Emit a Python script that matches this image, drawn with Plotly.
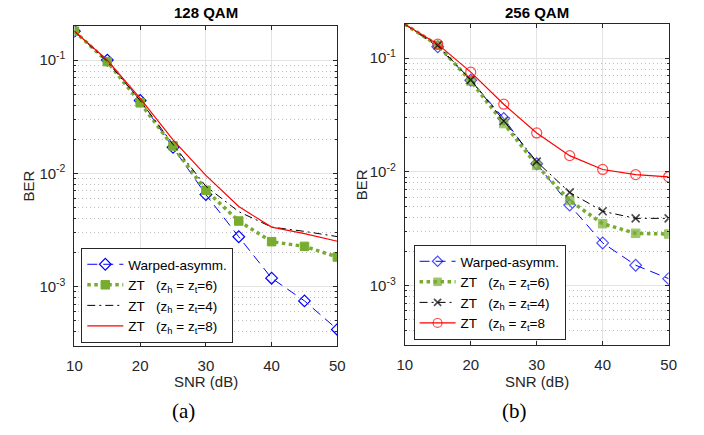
import plotly.graph_objects as go

snr = [10, 15, 20, 25, 30, 35, 40, 45, 50]

# 128 QAM
a_warped = [0.18, 0.100, 0.044, 0.0170, 0.0065, 0.00276, 0.00119, 0.00075, 0.00042]
a_zt6 = [0.18, 0.097, 0.042, 0.0175, 0.0071, 0.0038, 0.0025, 0.00227, 0.00183]
a_zt4 = [0.18, 0.097, 0.044, 0.0180, 0.0077, 0.0046, 0.00336, 0.00308, 0.00277]
a_zt8 = [0.18, 0.100, 0.046, 0.0198, 0.0096, 0.0051, 0.00336, 0.00294, 0.00252]

# 256 QAM
b_warped = [0.199, 0.126, 0.064, 0.0295, 0.0118, 0.0051, 0.00237, 0.00151, 0.00115]
b_zt6 = [0.199, 0.130, 0.063, 0.0266, 0.0114, 0.0056, 0.0035, 0.00288, 0.00284]
b_zt4 = [0.199, 0.130, 0.0645, 0.0280, 0.0123, 0.0066, 0.0045, 0.00390, 0.00390]
b_zt8 = [0.199, 0.133, 0.0754, 0.0394, 0.0220, 0.0139, 0.0105, 0.00946, 0.00905]

names = ["Warped-asymm.",
         "ZT\u00a0\u00a0\u00a0(z<sub>h</sub> = z<sub>t</sub>=6)",
         "ZT\u00a0\u00a0\u00a0(z<sub>h</sub> = z<sub>t</sub>=4)",
         "ZT\u00a0\u00a0\u00a0(z<sub>h</sub> = z<sub>t</sub>=8)"]
names_b = names[:3] + ["ZT\u00a0\u00a0\u00a0(z<sub>h</sub> = z<sub>t</sub>=8"]

ytickvals = [1e-3, 1e-2, 1e-1]
yticktext = ["10<sup>-3</sup>", "10<sup>-2</sup>", "10<sup>-1</sup>"]
xtickvals = [10, 20, 30, 40, 50]

BLUE = "#0000FF"
GREEN = "#77AC30"
RED = "#FF0000"
AXC = "#262626"
FONT = "Liberation Sans, Arial, sans-serif"

fig = go.Figure()

hide_first = [0] + [1] * 8


def sizes(s, hide):
    return [s * h for h in hide] if hide else s


for (xa, ya, leg, data, nm, hide) in [
    ("x", "y", "legend", (a_warped, a_zt6, a_zt4, a_zt8), names, False),
    ("x2", "y2", "legend2", (b_warped, b_zt6, b_zt4, b_zt8), names_b, True),
]:
    hf = hide_first if hide else None
    fig.add_trace(go.Scatter(
        x=snr, y=data[0], xaxis=xa, yaxis=ya, legend=leg, name=nm[0],
        mode="lines+markers",
        line=dict(color=BLUE, width=1, dash="10px,6px"),
        marker=dict(symbol="diamond-open", size=sizes(9, hf), color=BLUE,
                    line=dict(width=1.2, color=BLUE))))
    fig.add_trace(go.Scatter(
        x=snr, y=data[1], xaxis=xa, yaxis=ya, legend=leg, name=nm[1],
        mode="lines+markers",
        line=dict(color=GREEN, width=3.5, dash="dot"),
        marker=dict(symbol="square", size=sizes(8.5, hf), color=GREEN,
                    line=dict(width=1, color=GREEN))))
    if not hide:
        fig.add_trace(go.Scatter(
            x=snr, y=data[2], xaxis=xa, yaxis=ya, legend=leg, name=nm[2],
            mode="lines",
            line=dict(color="black", width=1, dash="8px,4px,2px,4px")))
        fig.add_trace(go.Scatter(
            x=snr, y=data[3], xaxis=xa, yaxis=ya, legend=leg, name=nm[3],
            mode="lines",
            line=dict(color=RED, width=1.2)))
    else:
        fig.add_trace(go.Scatter(
            x=snr, y=data[2], xaxis=xa, yaxis=ya, legend=leg, name=nm[2],
            mode="lines+markers",
            line=dict(color="black", width=1, dash="8px,4px,2px,4px"),
            marker=dict(symbol="x-thin", size=sizes(8, hf), color="black",
                        line=dict(width=1.6, color="black"))))
        fig.add_trace(go.Scatter(
            x=snr, y=data[3], xaxis=xa, yaxis=ya, legend=leg, name=nm[3],
            mode="lines+markers",
            line=dict(color=RED, width=1.2),
            marker=dict(symbol="circle-open", size=sizes(10, hf), color=RED,
                        line=dict(width=1.2, color=RED))))

minor_vals = [m * 10 ** k for k in range(-4, 0) for m in range(2, 10)
              if 3e-4 <= m * 10 ** k <= 0.2]

W, H = 704, 435
L1, R1, T1, B1 = 68, 337, 26, 346
L2, R2, T2, B2 = 406, 676, 24, 345

xcommon = dict(range=[10, 50], tickvals=xtickvals, ticks="inside", ticklen=4,
               tickcolor=AXC, showline=True, linecolor=AXC, linewidth=1,
               mirror="ticks", showgrid=True, gridcolor="#e3e3e3", gridwidth=1,
               zeroline=False, ticklabelstandoff=6,
               tickfont=dict(family=FONT, size=15, color=AXC))
ycommon = dict(type="log", range=[-3.523, -0.699], tickvals=ytickvals,
               ticktext=yticktext, ticks="inside", ticklen=4, tickcolor=AXC,
               showline=True, linecolor=AXC, linewidth=1, mirror="ticks",
               showgrid=True, gridcolor="#e3e3e3", gridwidth=1, zeroline=False,
               ticklabelstandoff=5,
               tickfont=dict(family=FONT, size=15, color=AXC),
               minor=dict(tickvals=minor_vals, ticks="inside", ticklen=2,
                          tickcolor=AXC, showgrid=True, griddash="1px,3px",
                          gridcolor="#bdbdbd", gridwidth=1))

fig.update_layout(
    width=W, height=H, margin=dict(l=0, r=0, t=0, b=0),
    paper_bgcolor="white", plot_bgcolor="white", showlegend=True,
    xaxis=dict(domain=[L1 / W, R1 / W], anchor="y", **xcommon),
    yaxis=dict(domain=[1 - B1 / H, 1 - T1 / H], anchor="x", **ycommon),
    xaxis2=dict(domain=[L2 / W, R2 / W], anchor="y2", **xcommon),
    yaxis2=dict(domain=[1 - B2 / H, 1 - T2 / H], anchor="x2", **ycommon),
    legend=dict(x=75 / W, y=1 - 248 / H, xanchor="left", yanchor="top",
                bgcolor="white", bordercolor=AXC, borderwidth=1,
                font=dict(family=FONT, size=13.5, color="black"),
                itemwidth=36, tracegroupgap=0),
    legend2=dict(x=415 / W, y=1 - 245 / H, xanchor="left", yanchor="top",
                 bgcolor="white", bordercolor=AXC, borderwidth=1,
                 font=dict(family=FONT, size=13.5, color="black"),
                 itemwidth=36, tracegroupgap=0),
)

ann = []
for cx, txt in [((L1 + R1) / 2, "<b>128 QAM</b>"), ((L2 + R2) / 2, "<b>256 QAM</b>")]:
    ann.append(dict(x=cx / W, y=1 - 13 / H, xref="paper", yref="paper",
                    text=txt, showarrow=False, xanchor="center", yanchor="middle",
                    font=dict(family=FONT, size=15, color="black")))
for cx in [(L1 + R1) / 2, (L2 + R2) / 2]:
    ann.append(dict(x=cx / W, y=1 - 381 / H, xref="paper", yref="paper",
                    text="SNR (dB)", showarrow=False, xanchor="center",
                    yanchor="middle", font=dict(family=FONT, size=15, color=AXC)))
for cx, cy in [(21, (T1 + B1) / 2), (362, (T2 + B2) / 2)]:
    ann.append(dict(x=cx / W, y=1 - cy / H, xref="paper", yref="paper",
                    text="BER", showarrow=False, textangle=-90, xanchor="center",
                    yanchor="middle", font=dict(family=FONT, size=15, color=AXC)))
for cx, txt in [(180, "(a)"), (518, "(b)")]:
    ann.append(dict(x=cx / W, y=1 - 411 / H, xref="paper", yref="paper",
                    text=txt, showarrow=False, xanchor="center", yanchor="middle",
                    font=dict(family="Liberation Serif, Times New Roman, serif",
                              size=21, color="black")))
fig.update_layout(annotations=ann)

fig.write_html("out.html")
